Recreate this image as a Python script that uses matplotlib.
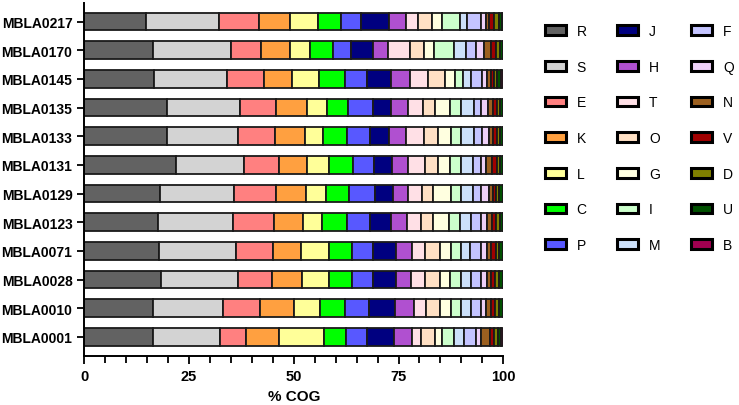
import matplotlib
matplotlib.use("Agg")
import matplotlib.pyplot as plt
import numpy as np
from matplotlib.ticker import MultipleLocator

plt.rcParams['font.family'] = ['Liberation Sans', 'DejaVu Sans']

strains = ["MBLA0217", "MBLA0170", "MBLA0145", "MBLA0135", "MBLA0133", "MBLA0131",
           "MBLA0129", "MBLA0123", "MBLA0071", "MBLA0028", "MBLA0010", "MBLA0001"]

# % of genes per COG category, one value per strain (top to bottom)
R = [14.7, 16.3, 16.7, 19.8, 19.8, 21.9, 18.1, 17.5, 17.9, 18.2, 16.3, 16.5]
S = [17.5, 18.7, 17.3, 17.3, 16.9, 16.2, 17.7, 18.0, 18.3, 18.4, 16.9, 15.8]
E = [9.4, 7.1, 9.0, 8.6, 8.8, 8.4, 9.9, 9.7, 8.8, 8.2, 8.8, 6.3]
K = [7.6, 7.1, 6.7, 7.4, 7.1, 6.6, 7.3, 6.9, 6.8, 7.2, 8.1, 7.8]
L = [6.6, 4.7, 6.4, 4.8, 4.4, 5.3, 4.7, 4.6, 6.5, 6.5, 6.2, 10.8]
C = [5.4, 5.5, 6.1, 5.0, 5.8, 5.7, 5.6, 5.9, 5.6, 5.4, 6.0, 5.3]
P = [4.8, 4.3, 5.3, 5.9, 5.5, 5.0, 6.1, 5.7, 5.0, 5.0, 5.7, 4.9]
J = [6.8, 5.1, 5.6, 4.5, 4.4, 4.4, 4.4, 4.8, 5.6, 5.4, 6.1, 6.5]
H = [3.9, 3.8, 4.6, 3.9, 4.1, 3.8, 3.5, 4.0, 3.7, 3.7, 4.5, 4.3]
T = [3.0, 5.1, 4.3, 3.6, 4.2, 4.1, 3.2, 3.3, 3.2, 3.3, 3.0, 2.2]
O = [3.3, 3.5, 4.0, 3.0, 3.5, 3.1, 2.8, 2.9, 3.4, 3.5, 3.4, 3.3]
G = [2.4, 2.2, 2.4, 3.6, 3.1, 2.8, 4.3, 3.8, 2.8, 2.6, 2.6, 1.7]
I = [4.2, 4.8, 2.0, 2.6, 2.4, 2.7, 2.3, 2.5, 2.4, 2.4, 2.2, 2.8]
M = [1.8, 3.0, 2.0, 3.0, 3.0, 2.7, 2.9, 2.8, 2.0, 2.4, 2.4, 2.4]
F = [3.2, 2.4, 2.6, 1.8, 2.0, 2.1, 2.0, 2.4, 2.6, 2.6, 2.4, 2.8]
Q = [1.3, 1.7, 1.2, 1.5, 1.5, 1.2, 1.8, 1.4, 1.6, 1.4, 1.4, 1.4]
N = [0.7, 1.7, 0.9, 1.2, 1.0, 1.4, 0.9, 1.2, 0.9, 0.8, 1.0, 2.0]
V = [1.2, 1.2, 0.8, 0.9, 0.9, 1.0, 0.8, 0.9, 1.1, 1.0, 1.0, 1.0]
D = [1.2, 1.0, 0.7, 0.8, 0.8, 0.8, 0.8, 0.9, 0.9, 1.1, 1.1, 0.9]
U = [0.8, 0.8, 0.9, 0.8, 0.8, 0.8, 0.9, 0.8, 0.9, 0.9, 0.9, 0.8]
B = [0.2, 0.1, 0.5, 0.1, 0.1, 0.1, 0.1, 0.1, 0.1, 0.1, 0.1, 0.5]

labels = ["R", "S", "E", "K", "L", "C", "P", "J", "H", "T", "O",
          "G", "I", "M", "F", "Q", "N", "V", "D", "U", "B"]
series = [R, S, E, K, L, C, P, J, H, T, O, G, I, M, F, Q, N, V, D, U, B]
colors = ["#626262", "#d3d3d3", "#ff8080", "#ffa040", "#ffff99", "#00ff00", "#5858ff",
          "#000080", "#b050d0", "#ffe0e6", "#ffe0c4", "#ffffe0", "#ccffcc", "#cce0fa",
          "#c4c4ff", "#eed0f8", "#9c6020", "#a00000", "#808000", "#005000", "#a00050"]

fig, ax = plt.subplots(figsize=(7.39, 4.06), dpi=100)
fig.subplots_adjust(left=0.114, right=0.681, top=0.991, bottom=0.121)

y = np.arange(len(strains))
left = np.zeros(len(strains))
for lab, vals, col in zip(labels, series, colors):
    ax.barh(y, vals, left=left, height=0.62, color=col, edgecolor="#1a1a1a",
            linewidth=1.3, label=lab)
    left += np.array(vals)

ax.set_ylim(len(strains) - 0.34, -0.66)
ax.set_xlim(0, 100)
ax.set_yticks(y)
ax.set_yticklabels(strains, fontweight="bold", fontsize=10)
ax.xaxis.set_major_locator(MultipleLocator(25))
ax.xaxis.set_minor_locator(MultipleLocator(5))
for t in ax.get_xticklabels():
    t.set_fontweight("bold")
ax.tick_params(axis="x", labelsize=10.5, width=1.3, length=6)
ax.tick_params(axis="x", which="minor", width=1.3, length=5)
ax.tick_params(axis="y", width=1.3, length=5)
ax.set_xlabel("% COG", fontweight="bold", fontsize=11)
for s in ["top", "right"]:
    ax.spines[s].set_visible(False)
for s in ["left", "bottom"]:
    ax.spines[s].set_linewidth(1.4)

leg = ax.legend(ncol=3, loc="upper left", bbox_to_anchor=(1.069, 0.975), frameon=False,
                fontsize=10, handlelength=1.5, handleheight=0.72, handletextpad=0.8,
                columnspacing=2.2, labelspacing=1.56)
for h in leg.legend_handles:
    h.set_linewidth(2.2)
    h.set_edgecolor("black")

fig.savefig("out.png", dpi=100)
